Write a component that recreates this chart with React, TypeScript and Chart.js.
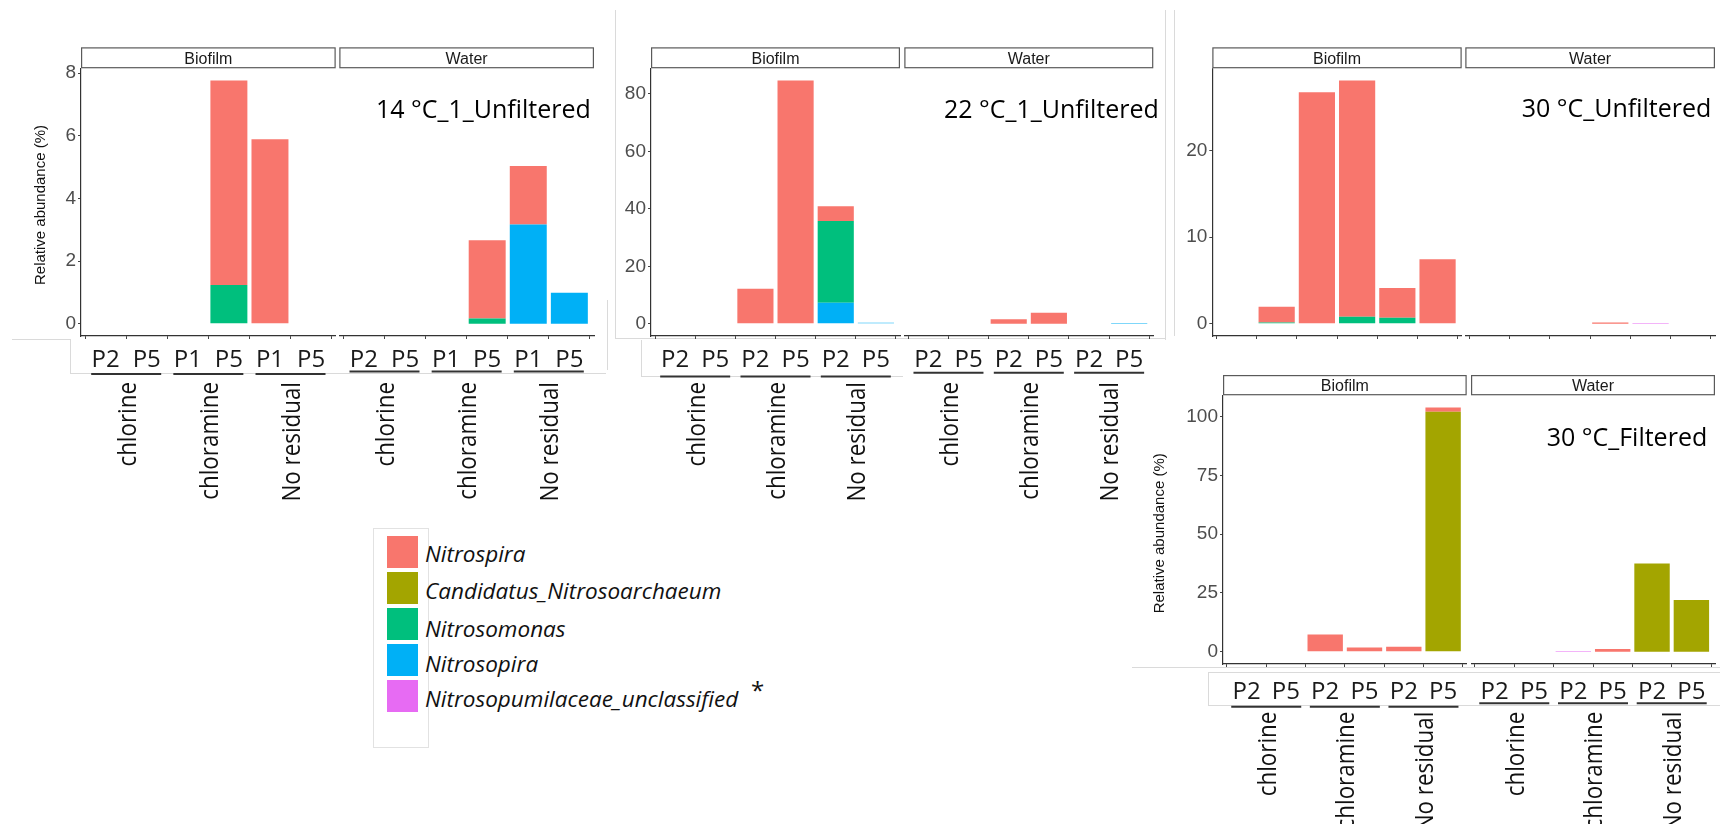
import React, { useEffect, useRef } from 'react';
import { Chart, registerables } from 'chart.js';

Chart.register(...registerables);

// ---------- data ----------
const SPECIES = [
  'Nitrospira',
  'Candidatus_Nitrosoarchaeum',
  'Nitrosomonas',
  'Nitrosopira',
  'Nitrosopumilaceae_unclassified',
];
const COLORS = ['#F8766D', '#A3A500', '#00BF7D', '#00B0F6', '#E76BF3'];
const CONDITIONS = ['chlorine', 'chloramine', 'No residual'];
const FACETS = ['Biofilm', 'Water'];
const PORTS_14 = ['P2', 'P5', 'P1', 'P5', 'P1', 'P5'];
const PORTS = ['P2', 'P5', 'P2', 'P5', 'P2', 'P5'];
const TITLES = ['14 °C_1_Unfiltered', '22 °C_1_Unfiltered', '30 °C_Unfiltered', '30 °C_Filtered'];
const Y_TITLE = 'Relative abundance (%)';

// rows follow SPECIES order, columns are the six bars (chlorine x2, chloramine x2, No residual x2)
const bio14 = [
  [0, 0, 0, 6.53, 5.89, 0],
  [0, 0, 0, 0, 0, 0],
  [0, 0, 0, 1.24, 0, 0],
  [0, 0, 0, 0, 0, 0],
  [0, 0, 0, 0, 0, 0],
];
const water14 = [
  [0, 0, 0, 2.5, 1.87, 0],
  [0, 0, 0, 0, 0, 0],
  [0, 0, 0, 0.17, 0, 0],
  [0, 0, 0, 0, 3.17, 0.99],
  [0, 0, 0, 0, 0, 0],
];
const bio22 = [
  [0, 0, 12.2, 84.7, 5.1, 0],
  [0, 0, 0, 0, 0, 0],
  [0, 0, 0, 0, 28.5, 0],
  [0, 0, 0, 0, 7.3, 0.4],
  [0, 0, 0, 0, 0, 0],
];
const water22 = [
  [0, 0, 1.6, 3.9, 0, 0],
  [0, 0, 0, 0, 0, 0],
  [0, 0, 0, 0, 0, 0],
  [0, 0, 0, 0, 0, 0.2],
  [0, 0, 0, 0, 0, 0],
];
const bio30u = [
  [0, 1.81, 26.7, 27.26, 3.43, 7.46],
  [0, 0, 0, 0, 0, 0],
  [0, 0.15, 0, 0.81, 0.69, 0],
  [0, 0, 0, 0, 0, 0],
  [0, 0, 0, 0, 0, 0],
];
const water30u = [
  [0, 0, 0, 0.15, 0, 0],
  [0, 0, 0, 0, 0, 0],
  [0, 0, 0, 0, 0, 0],
  [0, 0, 0, 0, 0, 0],
  [0, 0, 0, 0, 0.06, 0],
];
const bio30f = [
  [0, 0, 7.37, 1.85, 2.13, 1.8],
  [0, 0, 0, 0, 0, 102.0],
  [0, 0, 0, 0, 0, 0],
  [0, 0, 0, 0, 0, 0],
  [0, 0, 0, 0, 0, 0],
];
const water30f = [
  [0, 0, 0, 1.15, 0, 0],
  [0, 0, 0, 0, 37.5, 22.0],
  [0, 0, 0, 0, 0, 0],
  [0, 0, 0, 0, 0, 0],
  [0, 0, 0.25, 0, 0, 0],
];

const yTicks14 = [0, 2, 4, 6, 8];
const yTicks22 = [0, 20, 40, 60, 80];
const yTicks30u = [0, 10, 20];
const yTicks30f = [0, 25, 50, 75, 100];

const PANELS = [
  { title: TITLES[0], ports: PORTS_14, bio: bio14, water: water14, yTicks: yTicks14 },
  { title: TITLES[1], ports: PORTS, bio: bio22, water: water22, yTicks: yTicks22 },
  { title: TITLES[2], ports: null, bio: bio30u, water: water30u, yTicks: yTicks30u },
  { title: TITLES[3], ports: PORTS, bio: bio30f, water: water30f, yTicks: yTicks30f },
];

// ---------- layout (pixel positions only) ----------
const LAYOUT = [
  {
    T: 68.3, B: 336, stripTop: 47.3,
    sides: [{ L: 81, R: 335.7, yW: 65, underline: 374 }, { L: 339.3, R: 594, yW: 0, underline: 371.5 }],
    pBaseline: 367, rotTop: 382, bottomTo: 512,
    title: { x: 376, y: 118.3 }, yTitle: { x: 40.7, y: 205 },
  },
  {
    T: 68.3, B: 336, stripTop: 47.3,
    sides: [{ L: 651, R: 900, yW: 50, underline: 376.5 }, { L: 904.3, R: 1153.3, yW: 0, underline: 372.7 }],
    pBaseline: 367, rotTop: 382, bottomTo: 512,
    title: { x: 944, y: 118 }, yTitle: null,
  },
  {
    T: 68.3, B: 336, stripTop: 47.3,
    sides: [{ L: 1212.3, R: 1461.7, yW: 50, underline: 0 }, { L: 1465.3, R: 1715, yW: 0, underline: 0 }],
    pBaseline: 0, rotTop: 0, bottomTo: 346,
    title: { x: 1521.7, y: 117.3 }, yTitle: null,
  },
  {
    T: 395.3, B: 664, stripTop: 375,
    sides: [{ L: 1223, R: 1466.7, yW: 75, underline: 706.7 }, { L: 1471, R: 1715, yW: 0, underline: 703.3 }],
    pBaseline: 698.5, rotTop: 711.7, bottomTo: 824,
    title: { x: 1546.7, y: 446 }, yTitle: { x: 1160.2, y: 533.3 },
  },
];

const FAINT_LINES = [
  [11.7, 339.3, 70, 339.3],
  [70, 339.3, 70, 372.7],
  [70, 372.7, 606, 372.7],
  [606.7, 300, 606.7, 370],
  [615, 10, 615, 338.3],
  [615, 338.3, 1165, 338.3],
  [1165, 10, 1165, 340],
  [641.4, 340, 641.4, 376],
  [641.4, 376, 903, 376],
  [1174.2, 10, 1174.2, 336],
  [1131.5, 666.7, 1720, 666.7],
  [1208.3, 672.3, 1720, 672.3],
  [1208.3, 672.3, 1208.3, 705],
  [1208.3, 705, 1720, 705],
];

const FONT_OS = '"Open Sans", "DejaVu Sans", sans-serif';
const FONT_AR = '"Liberation Sans", Arial, sans-serif';

function stackTotals(rows: number[][]) {
  return rows[0].map((_, i) => rows.reduce((s, r) => s + r[i], 0));
}

function makePlugin(cfg: any) {
  return {
    id: 'facetDecor',
    afterDraw(chart: any) {
      const ctx = chart.ctx as CanvasRenderingContext2D;
      const { left, right, top } = chart.chartArea;
      const ox = cfg.cl;
      const oy = cfg.ct;
      const xs = chart.scales.x;
      ctx.save();
      // strip
      const sTop = cfg.stripTop - oy;
      ctx.fillStyle = '#ffffff';
      ctx.fillRect(left, sTop, right - left, top - sTop);
      ctx.strokeStyle = '#5a5a5a';
      ctx.lineWidth = 1.2;
      ctx.strokeRect(left + 0.6, sTop + 0.6, right - left - 1.2, top - sTop - 1.2);
      ctx.fillStyle = '#1a1a1a';
      ctx.font = `16px ${FONT_AR}`;
      ctx.textAlign = 'center';
      ctx.textBaseline = 'alphabetic';
      ctx.fillText(cfg.strip, (left + right) / 2, (sTop + top) / 2 + 5.8);

      // x labels (ports), group underlines, rotated condition labels
      if (cfg.ports) {
        ctx.fillStyle = '#1a1a1a';
        ctx.font = `24px ${FONT_OS}`;
        ctx.textAlign = 'center';
        ctx.textBaseline = 'alphabetic';
        cfg.ports.forEach((p: string, i: number) => {
          ctx.fillText(p, xs.getPixelForValue(i), cfg.pBaseline - oy);
        });
        CONDITIONS.forEach((c, g) => {
          const cx = (xs.getPixelForValue(2 * g) + xs.getPixelForValue(2 * g + 1)) / 2;
          ctx.strokeStyle = '#333333';
          ctx.lineWidth = 2;
          ctx.beginPath();
          ctx.moveTo(cx - 35, cfg.underline - oy);
          ctx.lineTo(cx + 35, cfg.underline - oy);
          ctx.stroke();
          ctx.save();
          ctx.translate(cx, cfg.rotTop - oy);
          ctx.rotate(-Math.PI / 2);
          ctx.scale(0.86, 1);
          ctx.fillStyle = '#111111';
          ctx.font = `26px ${FONT_OS}`;
          ctx.textAlign = 'right';
          ctx.textBaseline = 'alphabetic';
          ctx.fillText(c, 0, 0.36 * 26);
          ctx.restore();
        });
      }

      if (cfg.title) {
        ctx.fillStyle = '#000000';
        ctx.font = `25px ${FONT_OS}`;
        ctx.textAlign = 'left';
        ctx.textBaseline = 'alphabetic';
        ctx.fillText(cfg.title.text, cfg.title.x - ox, cfg.title.y - oy);
      }
      if (cfg.yTitle) {
        ctx.save();
        ctx.translate(cfg.yTitle.x - ox, cfg.yTitle.y - oy);
        ctx.rotate(-Math.PI / 2);
        ctx.fillStyle = '#111111';
        ctx.font = `15px ${FONT_AR}`;
        ctx.textAlign = 'center';
        ctx.textBaseline = 'middle';
        ctx.fillText(Y_TITLE, 0, 0);
        ctx.restore();
      }
      ctx.restore();
    },
  };
}

function buildFacets() {
  const out: any[] = [];
  PANELS.forEach((panel, p) => {
    const lay = LAYOUT[p];
    const maxTotal = Math.max(...stackTotals(panel.bio), ...stackTotals(panel.water));
    const yMin = -0.05 * maxTotal;
    const yMax = 1.05 * maxTotal;
    [panel.bio, panel.water].forEach((rows, f) => {
      const side = lay.sides[f];
      const padRight = f === 1 ? 22 : 3;
      const cl = Math.floor(side.L - side.yW);
      const ct = Math.floor(lay.stripTop - 2);
      const cr = Math.ceil(side.R + padRight);
      const cb = Math.ceil(lay.bottomTo);
      out.push({
        key: `${p}-${f}`,
        strip: FACETS[f],
        rows,
        ports: panel.ports,
        yTicks: panel.yTicks,
        yMin,
        yMax,
        showY: f === 0,
        yW: side.yW,
        stripTop: lay.stripTop,
        underline: side.underline,
        pBaseline: lay.pBaseline,
        rotTop: lay.rotTop,
        cl,
        ct,
        cw: cr - cl,
        ch: cb - ct,
        padL: side.L - side.yW - cl,
        padT: lay.T - ct,
        padR: cr - side.R,
        bottomH: cb - lay.B,
        title: f === 1 ? { text: panel.title, x: lay.title.x, y: lay.title.y } : null,
        yTitle: f === 0 && lay.yTitle ? lay.yTitle : null,
      });
    });
  });
  return out;
}

const FACET_CFGS = buildFacets();
const IDX = [0, 1, 2, 3, 4, 5];

function Facet({ cfg }: { cfg: any }) {
  const ref = useRef<HTMLCanvasElement>(null);
  useEffect(() => {
    if (!ref.current) return;
    // stack order: last species at bottom, Nitrospira on top
    const order = [4, 3, 2, 1, 0];
    const datasets = order.map((s) => ({
      label: SPECIES[s],
      data: cfg.rows[s].map((v: number, i: number) => ({ x: i, y: v })),
      backgroundColor: COLORS[s],
      borderWidth: 0,
      categoryPercentage: 1,
      barPercentage: 0.9,
    }));
    const gridOpts = {
      display: true,
      drawOnChartArea: false,
      drawTicks: true,
      tickLength: 3,
      tickColor: '#444444',
      tickWidth: 1,
    };
    const chart = new Chart(ref.current, {
      type: 'bar',
      data: { datasets } as any,
      options: {
        animation: false,
        responsive: false,
        maintainAspectRatio: false,
        devicePixelRatio: 1,
        events: [],
        layout: { padding: { left: cfg.padL, right: cfg.padR, top: cfg.padT, bottom: 0 } },
        plugins: {
          legend: { display: false },
          tooltip: { enabled: false },
          title: { display: false },
        },
        scales: {
          x: {
            type: 'linear',
            min: -0.6,
            max: 5.6,
            stacked: true,
            offset: false,
            grid: gridOpts,
            border: { display: true, color: '#333333', width: 1.2 },
            ticks: { display: false },
            afterBuildTicks: (s: any) => {
              s.ticks = IDX.map((v) => ({ value: v }));
            },
            afterFit: (s: any) => {
              s.height = cfg.bottomH;
              s.paddingLeft = 0;
              s.paddingRight = 0;
            },
          },
          y: {
            type: 'linear',
            min: cfg.yMin,
            max: cfg.yMax,
            stacked: true,
            display: cfg.showY,
            grid: gridOpts,
            border: { display: true, color: '#333333', width: 1.2 },
            ticks: {
              color: '#4D4D4D',
              font: { family: FONT_AR, size: 19 },
              padding: 2,
            },
            afterBuildTicks: (s: any) => {
              s.ticks = cfg.yTicks.map((v: number) => ({ value: v }));
            },
            afterFit: (s: any) => {
              s.width = cfg.yW;
              s.paddingTop = 0;
              s.paddingBottom = 0;
            },
          },
        },
      } as any,
      plugins: [makePlugin(cfg)],
    });
    let alive = true;
    const fonts: any = (document as any).fonts;
    if (fonts && fonts.ready) {
      fonts.ready.then(() => {
        if (alive) chart.update('none');
      });
    }
    return () => {
      alive = false;
      chart.destroy();
    };
  }, [cfg]);
  return (
    <canvas
      ref={ref}
      width={cfg.cw}
      height={cfg.ch}
      style={{ position: 'absolute', left: cfg.cl, top: cfg.ct, width: cfg.cw, height: cfg.ch }}
    />
  );
}

const LEGEND_BOX = { left: 373.3, top: 527.7, width: 55.7, height: 220.6 };
const SWATCH_TOPS = [535.7, 571.7, 607.5, 643.5, 679.5];
const TEXT_CENTERS = [553.5, 590.5, 628.5, 664, 698.5];

export default function App() {
  return (
    <div
      style={{
        position: 'absolute',
        left: 0,
        top: 0,
        width: 1720,
        height: 824,
        background: '#ffffff',
        overflow: 'hidden',
      }}
    >
      {FAINT_LINES.map(([x1, y1, x2, y2], i) => (
        <div
          key={`fl${i}`}
          style={{
            position: 'absolute',
            left: Math.min(x1, x2),
            top: Math.min(y1, y2),
            width: Math.max(1, Math.abs(x2 - x1)),
            height: Math.max(1, Math.abs(y2 - y1)),
            background: '#dadada',
          }}
        />
      ))}
      {FACET_CFGS.map((cfg) => (
        <Facet key={cfg.key} cfg={cfg} />
      ))}
      <div
        style={{
          position: 'absolute',
          left: LEGEND_BOX.left,
          top: LEGEND_BOX.top,
          width: LEGEND_BOX.width,
          height: LEGEND_BOX.height,
          border: '1px solid #e2e2e2',
          boxSizing: 'border-box',
        }}
      />
      {SPECIES.map((s, i) => (
        <React.Fragment key={s}>
          <div
            style={{
              position: 'absolute',
              left: 387.3,
              top: SWATCH_TOPS[i],
              width: 31,
              height: 32.5,
              background: COLORS[i],
            }}
          />
          <div
            style={{
              position: 'absolute',
              left: 425,
              top: TEXT_CENTERS[i] - 18,
              height: 36,
              lineHeight: '36px',
              fontFamily: FONT_OS,
              fontStyle: 'italic',
              fontSize: 22.5,
              color: '#111111',
              whiteSpace: 'nowrap',
            }}
          >
            {s}
          </div>
        </React.Fragment>
      ))}
      <div
        style={{
          position: 'absolute',
          left: 751,
          top: 678,
          fontFamily: FONT_OS,
          fontSize: 24,
          lineHeight: '24px',
          color: '#111111',
        }}
      >
        *
      </div>
    </div>
  );
}
